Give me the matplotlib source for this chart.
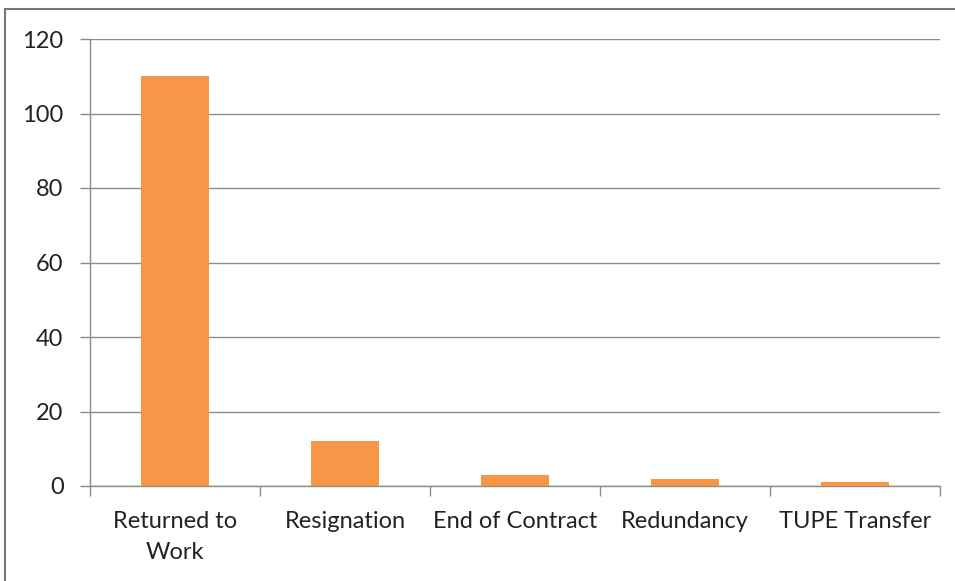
import numpy as np
import matplotlib.pyplot as plt
from matplotlib.lines import Line2D

# Leaver reasons and counts
categories = ['Returned to\nWork', 'Resignation', 'End of Contract', 'Redundancy', 'TUPE Transfer']
counts = [110, 12, 3, 2, 1]

bar_color = '#F79646'
grey = '#8C8C8C'

plt.rcParams['font.family'] = ['Lato', 'DejaVu Sans']

fig = plt.figure(figsize=(9.55, 5.81), dpi=100)
ax = fig.add_axes([90 / 955, 1 - 486 / 581, 850 / 955, 447 / 581])

x = np.arange(len(categories))
ax.bar(x, counts, width=0.4, color=bar_color, zorder=3)

ax.set_xlim(-0.5, len(categories) - 0.5)
ax.set_ylim(0, 120)
ax.set_yticks(np.arange(0, 121, 20))
ax.yaxis.grid(True, color=grey, linewidth=1.0, zorder=0)

# boundaries get tick marks, category names sit on minor ticks at the centres
ax.set_xticks(np.arange(-0.5, len(categories), 1.0))
ax.set_xticklabels([])
ax.set_xticks(x, minor=True)
ax.set_xticklabels(categories, minor=True, fontsize=17, color='#222222', linespacing=1.6)
ax.tick_params(axis='x', which='major', length=7, color=grey, width=1)
ax.tick_params(axis='x', which='minor', length=0, pad=18)
ax.tick_params(axis='y', length=7, color=grey, width=1, pad=12, labelsize=17, labelcolor='#222222')

for side in ['top', 'right']:
    ax.spines[side].set_visible(False)
for side in ['left', 'bottom']:
    ax.spines[side].set_color(grey)
    ax.spines[side].set_linewidth(1)

# chart area border on the left and top
fig.add_artist(Line2D([5 / 955, 5 / 955], [0, 1 - 9 / 581], transform=fig.transFigure, color='#777777', linewidth=1.5))
fig.add_artist(Line2D([5 / 955, 1], [1 - 9 / 581, 1 - 9 / 581], transform=fig.transFigure, color='#777777', linewidth=1.5))

fig.savefig('out.png', dpi=100)
